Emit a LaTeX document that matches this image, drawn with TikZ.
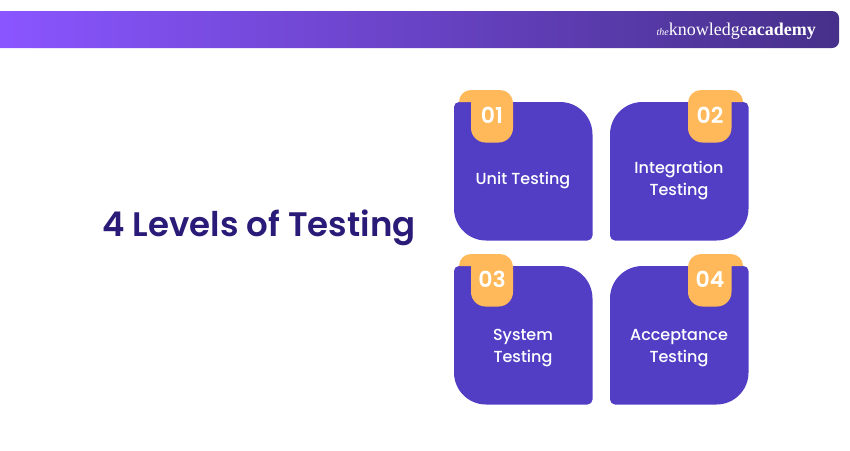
\documentclass[tikz,border=0pt]{standalone}
\usepackage{fontspec}
\setmainfont{Poppins}
\newfontfamily\medfont{Poppins Medium}
\newfontfamily\boldfont{Poppins SemiBold}
\newfontfamily\logofont{Liberation Serif}
\usetikzlibrary{positioning}
\definecolor{cardblue}{HTML}{513EC4}
\definecolor{badgeorange}{HTML}{FFB95A}
\definecolor{titleblue}{HTML}{2A1B78}
\definecolor{barleft}{HTML}{8A55FF}
\definecolor{barmid}{HTML}{6A41CE}
\definecolor{barright}{HTML}{46308A}
\tikzset{
    cardbox/.style={fill=cardblue},
    badgebox/.style={fill=badgeorange},
    cardtext/.style={text=white, align=center, inner sep=0pt, font=\medfont\fontsize{16}{22}\selectfont},
    badgetext/.style={text=white, inner sep=0pt, font=\boldfont\fontsize{22}{24}\selectfont}
}

\begin{document}
\begin{tikzpicture}[x=1pt, y=-1pt]
    \useasboundingbox (0, 0) rectangle (850, 450);
    % top bar
    \shade[left color=barleft, middle color=barmid, right color=barright]
        (0, 11) -- (832, 11) arc[start angle=90, end angle=0, x radius=7, y radius=-7]
        -- (839, 41) arc[start angle=0, end angle=-90, x radius=7, y radius=-7] -- (0, 48) -- cycle;
    \node[text=white, inner sep=0pt, anchor=base east] (logo) at (816, 35)
        {\logofont\fontsize{10}{10}\selectfont\itshape the\fontsize{18}{18}\selectfont\upshape knowledge\bfseries academy};
    \node[text=titleblue, inner sep=0pt, anchor=base west, font=\boldfont\fontsize{34}{36}\selectfont]
        (title) at (102, 236) {4 Levels of Testing};
    % cards
    \fill[cardbox] (454, 107) arc[start angle=180, end angle=90, x radius=5, y radius=-5]
        -- (560, 102) arc[start angle=90, end angle=0, x radius=32.5, y radius=-32.5]
        -- (592.5, 235.5) arc[start angle=0, end angle=-90, x radius=5, y radius=-5]
        -- (486, 240.5) arc[start angle=-90, end angle=-180, x radius=32, y radius=-32] -- cycle;
    \fill[cardbox] (610, 134.5) arc[start angle=180, end angle=90, x radius=32.5, y radius=-32.5]
        -- (743.5, 102) arc[start angle=90, end angle=0, x radius=5, y radius=-5]
        -- (748.5, 208.5) arc[start angle=0, end angle=-90, x radius=32, y radius=-32]
        -- (615, 240.5) arc[start angle=-90, end angle=-180, x radius=5, y radius=-5] -- cycle;
    \fill[cardbox] (454, 271) arc[start angle=180, end angle=90, x radius=5, y radius=-5]
        -- (560, 266) arc[start angle=90, end angle=0, x radius=32.5, y radius=-32.5]
        -- (592.5, 399.5) arc[start angle=0, end angle=-90, x radius=5, y radius=-5]
        -- (486, 404.5) arc[start angle=-90, end angle=-180, x radius=32, y radius=-32] -- cycle;
    \fill[cardbox] (610, 298.5) arc[start angle=180, end angle=90, x radius=32.5, y radius=-32.5]
        -- (743.5, 266) arc[start angle=90, end angle=0, x radius=5, y radius=-5]
        -- (748.5, 372.5) arc[start angle=0, end angle=-90, x radius=32, y radius=-32]
        -- (615, 404.5) arc[start angle=-90, end angle=-180, x radius=5, y radius=-5] -- cycle;
    % badges
    \fill[badgebox] (459, 102) arc[start angle=180, end angle=90, x radius=12, y radius=-12]
        -- (500, 90) arc[start angle=90, end angle=0, x radius=13, y radius=-13]
        -- (513, 128) arc[start angle=0, end angle=-90, x radius=14.5, y radius=-14.5]
        -- (485.5, 142.5) arc[start angle=-90, end angle=-180, x radius=14.5, y radius=-14.5] -- (471, 102) -- cycle;
    \fill[badgebox] (743, 102) arc[start angle=0, end angle=90, x radius=12, y radius=-12]
        -- (701, 90) arc[start angle=90, end angle=180, x radius=13, y radius=-13]
        -- (688, 128) arc[start angle=180, end angle=270, x radius=14.5, y radius=-14.5]
        -- (717, 142.5) arc[start angle=270, end angle=360, x radius=14.5, y radius=-14.5] -- (731.5, 102) -- cycle;
    \fill[badgebox] (459, 266) arc[start angle=180, end angle=90, x radius=12, y radius=-12]
        -- (500, 254) arc[start angle=90, end angle=0, x radius=13, y radius=-13]
        -- (513, 292) arc[start angle=0, end angle=-90, x radius=14.5, y radius=-14.5]
        -- (485.5, 306.5) arc[start angle=-90, end angle=-180, x radius=14.5, y radius=-14.5] -- (471, 266) -- cycle;
    \fill[badgebox] (743, 266) arc[start angle=0, end angle=90, x radius=12, y radius=-12]
        -- (701, 254) arc[start angle=90, end angle=180, x radius=13, y radius=-13]
        -- (688, 292) arc[start angle=180, end angle=270, x radius=14.5, y radius=-14.5]
        -- (717, 306.5) arc[start angle=270, end angle=360, x radius=14.5, y radius=-14.5] -- (731.5, 266) -- cycle;
    \node[badgetext] (num1) at (492, 115) {01};
    \node[badgetext] (num2) at (710, 115) {02};
    \node[badgetext] (num3) at (492, 279) {03};
    \node[badgetext] (num4) at (710, 279) {04};
    \node[cardtext] (unit) at (523, 181) {Unit Testing};
    \node[cardtext] (integration) at (679, 181) {Integration\\Testing};
    \node[cardtext] (system) at (523, 348) {System\\Testing};
    \node[cardtext] (acceptance) at (679, 348) {Acceptance\\Testing};
\end{tikzpicture}
\end{document}
